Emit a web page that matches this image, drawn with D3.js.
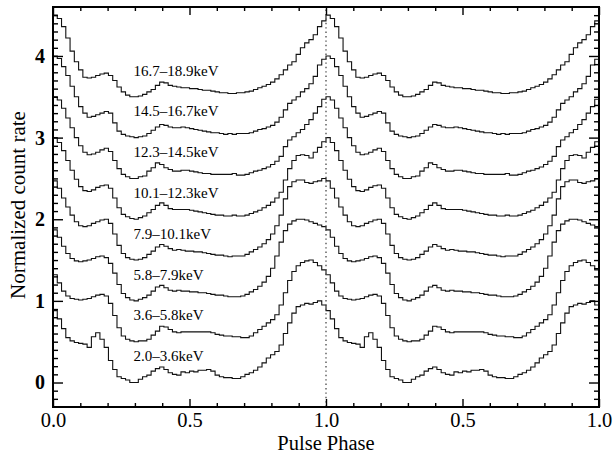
<!DOCTYPE html>
<html>
<head>
<meta charset="utf-8">
<script src="https://cdn.jsdelivr.net/npm/d3@7"></script>
<style>
  html, body { margin: 0; padding: 0; background: #fff; }
  svg { display: block; }
  svg text { font-family: "Liberation Serif", "Times New Roman", Times, serif; }
</style>
</head>
<body>
<div id="chart"></div>
<script>
// ---- data (normalized profiles, 64 phase bins per cycle, drawn twice) ----
const energyBands = ["2.0–3.6keV", "3.6–5.8keV", "5.8–7.9keV", "7.9–10.1keV",
                     "10.1–12.3keV", "12.3–14.5keV", "14.5–16.7keV", "16.7–18.9keV"];
const bandOffsets = [0, 0.5, 1.0, 1.5, 2.0, 2.5, 3.0, 3.5];

const prof_2_0_3_6 = [0.88,0.78,0.66,0.55,0.51,0.49,0.48,0.47,0.43,0.56,0.61,0.53,0.43,0.27,0.16,0.07,0.05,0.03,0.00,0.00,
  0.04,0.07,0.09,0.14,0.17,0.19,0.16,0.12,0.10,0.09,0.13,0.12,0.14,0.13,0.15,0.15,0.16,0.14,0.09,0.07,0.06,0.06,0.05,0.05,
  0.07,0.10,0.12,0.15,0.19,0.24,0.30,0.34,0.38,0.46,0.60,0.73,0.85,0.93,0.95,0.97,0.96,0.98,1.00,0.95];
const prof_3_6_5_8 = [0.82,0.72,0.62,0.56,0.53,0.52,0.51,0.52,0.53,0.55,0.57,0.58,0.56,0.47,0.32,0.17,0.07,0.03,0.01,0.00,
  0.01,0.01,0.03,0.08,0.13,0.19,0.18,0.15,0.12,0.11,0.12,0.12,0.12,0.12,0.12,0.12,0.12,0.11,0.09,0.08,0.07,0.07,0.06,0.06,
  0.05,0.05,0.07,0.11,0.15,0.19,0.23,0.27,0.33,0.45,0.60,0.75,0.86,0.93,0.97,0.99,1.00,0.97,0.93,0.88];
const prof_5_8_7_9 = [0.87,0.78,0.67,0.58,0.52,0.49,0.48,0.49,0.50,0.52,0.54,0.55,0.53,0.46,0.34,0.20,0.09,0.04,0.01,0.00,
  0.02,0.04,0.07,0.12,0.17,0.19,0.16,0.13,0.12,0.13,0.12,0.12,0.11,0.11,0.10,0.10,0.09,0.08,0.07,0.07,0.06,0.05,0.05,0.05,
  0.06,0.08,0.11,0.14,0.18,0.23,0.30,0.40,0.55,0.72,0.86,0.94,0.98,1.00,1.00,0.99,0.97,0.95,0.93,0.91];
const prof_7_9_10_1 = [0.97,0.88,0.76,0.65,0.55,0.47,0.42,0.41,0.42,0.45,0.47,0.49,0.50,0.45,0.32,0.18,0.08,0.03,0.01,0.00,
  0.01,0.03,0.07,0.11,0.16,0.19,0.17,0.14,0.12,0.13,0.12,0.11,0.11,0.10,0.10,0.09,0.08,0.07,0.06,0.06,0.05,0.04,0.05,0.05,
  0.05,0.07,0.10,0.13,0.16,0.20,0.25,0.32,0.42,0.55,0.75,0.90,0.96,0.98,0.98,0.95,0.94,0.96,0.97,1.00];
const prof_10_1_12_3 = [1.00,0.94,0.84,0.72,0.60,0.49,0.40,0.35,0.34,0.36,0.39,0.41,0.42,0.38,0.26,0.14,0.06,0.03,0.01,0.00,
  0.02,0.04,0.08,0.12,0.17,0.20,0.17,0.13,0.12,0.12,0.12,0.12,0.11,0.10,0.09,0.08,0.07,0.06,0.05,0.05,0.04,0.04,0.05,0.04,
  0.04,0.05,0.07,0.09,0.11,0.14,0.17,0.21,0.26,0.33,0.48,0.62,0.72,0.78,0.79,0.78,0.75,0.82,0.88,0.95];
const prof_12_3_14_5 = [1.00,0.96,0.86,0.74,0.62,0.50,0.40,0.32,0.29,0.30,0.32,0.35,0.37,0.33,0.22,0.12,0.05,0.02,0.00,0.00,
  0.02,0.03,0.09,0.13,0.19,0.17,0.13,0.11,0.09,0.09,0.10,0.10,0.09,0.08,0.07,0.06,0.06,0.05,0.05,0.05,0.05,0.05,0.06,0.04,
  0.04,0.05,0.07,0.09,0.10,0.12,0.14,0.17,0.21,0.27,0.39,0.47,0.51,0.56,0.60,0.66,0.72,0.80,0.88,0.97];
const prof_14_5_16_7 = [1.00,0.97,0.87,0.76,0.63,0.50,0.38,0.30,0.25,0.26,0.28,0.30,0.32,0.30,0.18,0.08,0.04,0.02,0.01,0.00,
  0.01,0.02,0.05,0.09,0.13,0.16,0.15,0.13,0.12,0.12,0.13,0.12,0.11,0.10,0.09,0.08,0.07,0.06,0.06,0.05,0.04,0.05,0.04,0.05,
  0.05,0.05,0.06,0.08,0.10,0.11,0.13,0.15,0.19,0.25,0.34,0.42,0.46,0.50,0.56,0.60,0.66,0.75,0.89,0.96];
const prof_16_7_18_9 = [1.00,0.96,0.86,0.72,0.56,0.43,0.33,0.24,0.23,0.24,0.26,0.28,0.29,0.26,0.20,0.12,0.06,0.02,0.00,0.00,
  0.01,0.03,0.06,0.09,0.14,0.18,0.17,0.14,0.13,0.12,0.11,0.11,0.10,0.10,0.09,0.08,0.08,0.07,0.06,0.05,0.05,0.04,0.04,0.05,
  0.05,0.06,0.07,0.09,0.11,0.13,0.15,0.18,0.22,0.27,0.33,0.39,0.43,0.52,0.60,0.66,0.70,0.76,0.86,0.93];

const profiles = [prof_2_0_3_6, prof_3_6_5_8, prof_5_8_7_9, prof_7_9_10_1,
                  prof_10_1_12_3, prof_12_3_14_5, prof_14_5_16_7, prof_16_7_18_9];

const xMajorTicks = [0, 0.5, 1.0, 1.5, 2.0];
const xTickLabels = ["0.0", "0.5", "1.0", "0.5", "1.0"];
const yMajorTicks = [0, 1, 2, 3, 4];
const yTickLabels = ["0", "1", "2", "3", "4"];

(function draw() {
  const W = 616, H = 454;
  const M = { left: 53, right: 17, top: 7, bottom: 47 };
  const SERIF = '"Liberation Serif", "Times New Roman", Times, serif';

  const svg = d3.select("#chart").append("svg").attr("width", W).attr("height", H);
  svg.append("rect").attr("width", W).attr("height", H).attr("fill", "#fff");

  const x = d3.scaleLinear().domain([0, 2]).range([M.left, W - M.right]);
  const y = d3.scaleLinear().domain([-0.3, 4.6]).range([H - M.bottom, M.top]);

  const nBins = 64;
  const line = d3.line().x(d => x(d[0])).y(d => y(d[1])).curve(d3.curveStepAfter);

  profiles.forEach((prof, k) => {
    const pts = [];
    for (let c = 0; c < 2; c++) {
      prof.forEach((v, i) => pts.push([c + i / nBins, bandOffsets[k] + v]));
    }
    pts.push([2, bandOffsets[k] + prof[prof.length - 1]]);
    svg.append("path").datum(pts)
      .attr("d", line).attr("fill", "none")
      .attr("stroke", "#111").attr("stroke-width", 1.1);
  });

  svg.append("line")
    .attr("x1", x(1)).attr("x2", x(1))
    .attr("y1", y.range()[0]).attr("y2", y.range()[1])
    .attr("stroke", "#555").attr("stroke-width", 1.4)
    .attr("stroke-dasharray", "1.4 3");

  energyBands.forEach((lab, k) => {
    svg.append("text")
      .attr("x", x(0.295)).attr("y", y(bandOffsets[k] + 0.26))
      .style("font-family", SERIF).style("font-size", "15px").attr("fill", "#000")
      .text(lab);
  });

  const xMinor = d3.range(0, 2.0001, 0.1).map(v => +v.toFixed(2)).filter(v => !xMajorTicks.includes(v));
  const yMinor = d3.range(-0.2, 4.6, 0.1).map(v => +v.toFixed(2)).filter(v => !yMajorTicks.includes(v));

  function styleAxis(g) {
    g.attr("font-family", null).attr("font-size", null);
    g.select(".domain").remove();
    g.selectAll(".tick line").attr("stroke", "#000").attr("stroke-width", 1.4);
    g.selectAll(".tick text").attr("fill", "#000").style("font-family", SERIF);
  }

  const pB = H - M.bottom, pT = M.top, pL = M.left, pR = W - M.right;

  svg.append("g").attr("transform", `translate(0,${pB})`)
    .call(d3.axisBottom(x).tickValues(xMajorTicks).tickSizeInner(-8).tickSizeOuter(0).tickPadding(5)
          .tickFormat((d, i) => xTickLabels[i]))
    .call(styleAxis)
    .selectAll("text").style("font-size", "20.5px");
  svg.append("g").attr("transform", `translate(0,${pB})`)
    .call(d3.axisBottom(x).tickValues(xMinor).tickSizeInner(-4).tickSizeOuter(0).tickFormat(""))
    .call(styleAxis);
  svg.append("g").attr("transform", `translate(0,${pT})`)
    .call(d3.axisTop(x).tickValues(xMajorTicks).tickSizeInner(-8).tickSizeOuter(0).tickFormat(""))
    .call(styleAxis);
  svg.append("g").attr("transform", `translate(0,${pT})`)
    .call(d3.axisTop(x).tickValues(xMinor).tickSizeInner(-4).tickSizeOuter(0).tickFormat(""))
    .call(styleAxis);

  svg.append("g").attr("transform", `translate(${pL},0)`)
    .call(d3.axisLeft(y).tickValues(yMajorTicks).tickSizeInner(-10).tickSizeOuter(0).tickPadding(8)
          .tickFormat((d, i) => yTickLabels[i]))
    .call(styleAxis)
    .selectAll("text").style("font-size", "20px").style("font-weight", "bold");
  svg.append("g").attr("transform", `translate(${pL},0)`)
    .call(d3.axisLeft(y).tickValues(yMinor).tickSizeInner(-5).tickSizeOuter(0).tickFormat(""))
    .call(styleAxis);
  svg.append("g").attr("transform", `translate(${pR},0)`)
    .call(d3.axisRight(y).tickValues(yMajorTicks).tickSizeInner(-10).tickSizeOuter(0).tickFormat(""))
    .call(styleAxis);
  svg.append("g").attr("transform", `translate(${pR},0)`)
    .call(d3.axisRight(y).tickValues(yMinor).tickSizeInner(-5).tickSizeOuter(0).tickFormat(""))
    .call(styleAxis);

  svg.append("rect")
    .attr("x", pL).attr("y", pT).attr("width", pR - pL).attr("height", pB - pT)
    .attr("fill", "none").attr("stroke", "#000").attr("stroke-width", 2);

  svg.append("text")
    .attr("x", (pL + pR) / 2).attr("y", H - 4)
    .attr("text-anchor", "middle").attr("fill", "#000")
    .style("font-family", SERIF).style("font-size", "20.5px")
    .text("Pulse Phase");
  svg.append("text")
    .attr("transform", `translate(25,${(pT + pB) / 2 - 2}) rotate(-90)`)
    .attr("text-anchor", "middle").attr("fill", "#000")
    .style("font-family", SERIF).style("font-size", "21px")
    .text("Normalized count rate");
})();
</script>
</body>
</html>
